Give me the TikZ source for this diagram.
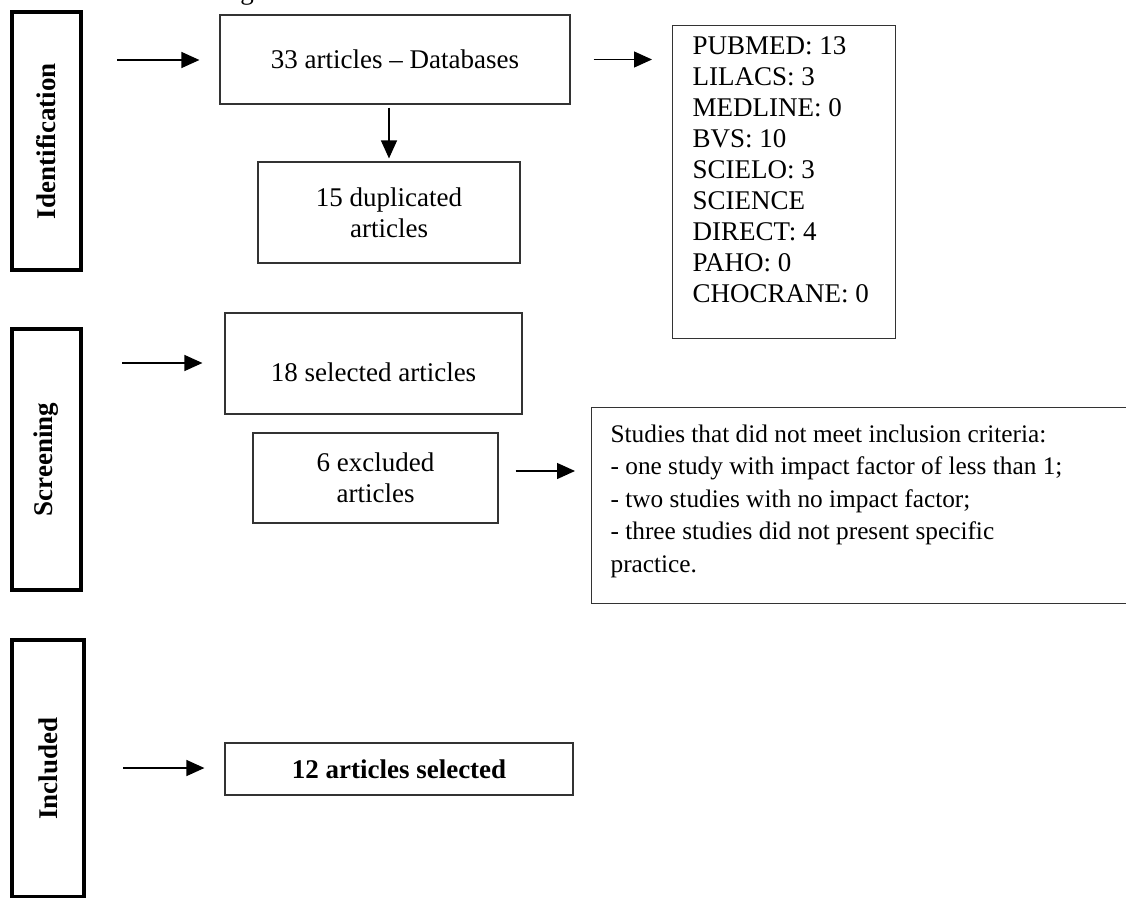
\documentclass[tikz,border=0pt]{standalone}
\usepackage{fontspec}
\setmainfont{Liberation Serif}
\usetikzlibrary{arrows.meta}
\begin{document}
\begin{tikzpicture}[x=1pt,y=-1pt,
  phase/.style={draw=black, line width=4pt, rotate=90, inner sep=0pt,
    font=\fontsize{27}{32}\selectfont\bfseries},
  box/.style={draw=black!80, line width=1.2pt, inner sep=0pt, align=center,
    font=\fontsize{27}{31}\selectfont},
  arr/.style={line width=1.3pt, -{Triangle[length=18pt,width=16pt]}}
]
\useasboundingbox (0,0) rectangle (1126,897);
\begin{scope}
\clip (0,0) rectangle (1126,897);
% fragment of a caption above the picture (cut off in the reference too)
\node (gfrag) [anchor=base, inner sep=0pt, font=\fontsize{27}{32}\selectfont] at (247,-1) {g};

% phase labels
\node (ident) [phase, minimum width=258pt, minimum height=69pt] at (46.5,141) {Identification};
\node (screen) [phase, minimum width=261pt, minimum height=69pt] at (46.5,459.5) {Screening};
\node (incl) [phase, minimum width=257pt, minimum height=72pt] at (48,768.5) {Included};

% boxes
\node (db33) [box, minimum width=350pt, minimum height=89pt] at (395,59.5) {33 articles -- Databases};
\node (dup) [box, minimum width=262pt, minimum height=101pt] at (389,212.5) {15 duplicated\\articles};
\node (dblist) [box, anchor=north west, inner xsep=20pt, inner ysep=11pt] at (672,25)
  {\parbox[c][291pt][t]{183pt}{\raggedright PUBMED: 13\\LILACS: 3\\MEDLINE: 0\\BVS: 10\\SCIELO: 3\\SCIENCE\\DIRECT: 4\\PAHO: 0\\CHOCRANE: 0}};

\node (sel18) [box, minimum width=297pt, minimum height=101pt] at (373.5,363.5)
  {\raisebox{-8.5pt}[\height][\depth]{18 selected articles}};
\node (excl) [box, minimum width=245pt, minimum height=90pt] at (375.5,478) {6 excluded\\articles};
\node (crit) [box, anchor=north west, inner xsep=19pt, inner ysep=17pt] at (591,407)
  {\parbox[c][162pt][t]{521pt}{\fontsize{25.3}{32.5}\selectfont\raggedright
   Studies that did not meet inclusion criteria:\\
   - one study with impact factor of less than 1;\\
   - two studies with no impact factor;\\
   - three studies did not present specific\\
   practice.}};

\node (sel12) [box, minimum width=348pt, minimum height=52pt] at (399,769) {\textbf{12 articles selected}};

% connectors
\coordinate (s1) at (117,60);
\coordinate (s2) at (122,363);
\coordinate (s3) at (123,768);
\draw[arr, shorten >=20pt] (s1) -- (s1 -| db33.west);
\draw[arr, shorten <=3pt, shorten >=3pt] (dup.north |- db33.south) -- (dup.north);
\draw[arr, shorten <=23pt, shorten >=20pt] (db33.east) -- (db33.east -| dblist.west);
\draw[arr, shorten >=22pt] (s2) -- (s2 -| sel18.west);
\draw[arr, shorten <=17pt, shorten >=16pt] ([yshift=7pt]excl.east) -- ([yshift=7pt]excl.east -| crit.west);
\draw[arr, shorten >=20pt] (s3) -- (s3 -| sel12.west);
\end{scope}
\end{tikzpicture}
\end{document}
